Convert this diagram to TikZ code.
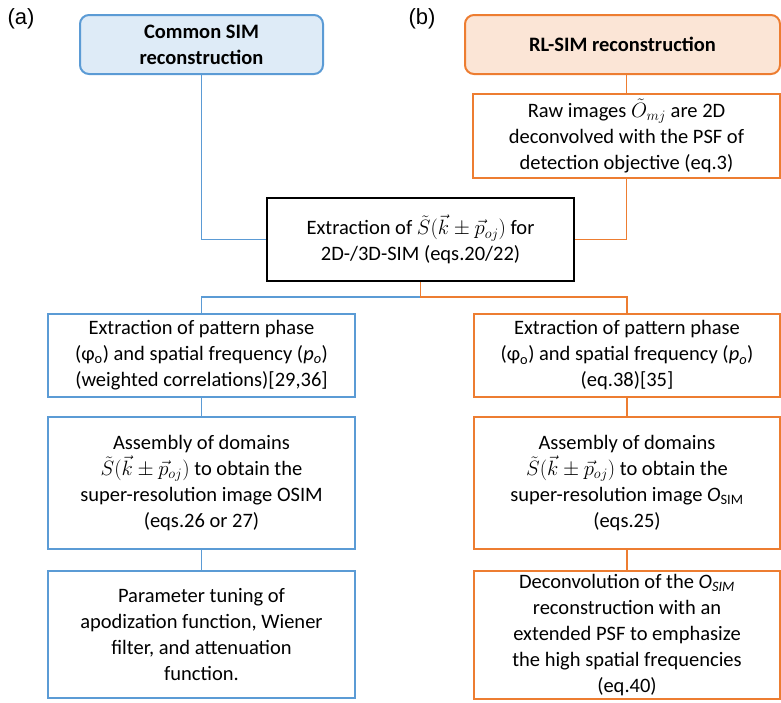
\documentclass[tikz,border=0pt]{standalone}
\usepackage{fontspec}
\usepackage{amsmath,amssymb}
\setmainfont{Carlito}
\newfontfamily\labelfont{Liberation Sans}
\definecolor{simblue}{HTML}{5B9BD5}
\definecolor{simorange}{HTML}{ED7D31}
\definecolor{fillblue}{HTML}{DEEBF7}
\definecolor{fillorange}{HTML}{FBE5D6}
\newcommand{\Sdom}{$\tilde{S}(\vec{k}\pm\vec{p}_{oj})$}

\begin{document}
\begin{tikzpicture}[x=1pt,y=1pt,
  box/.style={draw,line width=2pt,align=center,inner sep=0pt,
    font=\fontsize{20.5}{26}\selectfont},
  bluebox/.style={box,draw=simblue},
  orangebox/.style={box,draw=simorange},
  titlebox/.style={rounded corners=9pt,font=\fontsize{20.5}{26}\selectfont\bfseries},
  blueline/.style={draw=simblue,line width=1.6pt},
  orangeline/.style={draw=simorange,line width=1.6pt}]
  \useasboundingbox (0,0) rectangle (781,-702);
  \node (la) at (21,-19) {\labelfont\fontsize{22}{26}\selectfont (a)};
  \node (lb) at (422,-19) {\labelfont\fontsize{22}{26}\selectfont (b)};
  % headers
  \node [bluebox,titlebox,fill=fillblue,minimum width=243pt,minimum height=59pt] (common) at (201.5,-44.5) {Common SIM\\reconstruction};
  \node [orangebox,titlebox,fill=fillorange,minimum width=315pt,minimum height=59pt] (rl) at (622.5,-44.5) {RL-SIM reconstruction};
  \node [orangebox,minimum width=307pt,minimum height=84pt] (raw) at (626.5,-136) {Raw images $\tilde{O}_{mj}$ are 2D\\deconvolved with the PSF of\\detection objective (eq.3)};
  % common step
  \node [box,draw=black,line width=2.5pt,minimum width=307pt,minimum height=83pt] (extr) at (420.5,-239.5) {Extraction of \Sdom{} for\\2D-/3D-SIM (eqs.20/22)};
  \coordinate (fork) at (420.5,-297);
  % left column
  \node [bluebox,minimum width=307pt,minimum height=83pt] (L1) at (201.5,-355.5) {Extraction of pattern phase\\(φ\textsubscript{o}) and spatial frequency (\textit{p}\textsubscript{\textit{o}})\\(weighted correlations)[29,36]};
  \node [bluebox,minimum width=307pt,minimum height=132pt] (L2) at (201.5,-483) {Assembly of domains\\\Sdom{} to obtain the\\super-resolution image OSIM\\(eqs.26 or 27)};
  \node [bluebox,minimum width=307pt,minimum height=127pt] (L3) at (201.5,-634.5) {Parameter tuning of\\apodization function, Wiener\\filter, and attenuation\\function.};
  % right column
  \node [orangebox,minimum width=306pt,minimum height=83pt] (R1) at (627,-355.5) {Extraction of pattern phase\\(φ\textsubscript{o}) and spatial frequency (\textit{p}\textsubscript{\textit{o}})\\(eq.38)[35]};
  \node [orangebox,minimum width=306pt,minimum height=132pt] (R2) at (627,-483) {Assembly of domains\\\Sdom{} to obtain the\\super-resolution image \textit{O}\textsubscript{SIM}\\(eqs.25)};
  \node [orangebox,minimum width=306pt,minimum height=128pt] (R3) at (627,-635) {Deconvolution of the \textit{O}\textsubscript{\textit{SIM}}\\reconstruction with an\\extended PSF to emphasize\\the high spatial frequencies\\(eq.40)};
  % connectors
  \draw [blueline] (common) |- (extr);
  \draw [orangeline] (raw.north) -- (raw.north |- rl.south);
  \draw [orangeline] (raw) |- (extr);
  \draw [blueline] (fork) -| (L1);
  \draw [orangeline] (extr) -- (fork) -| (R1);
  \draw [blueline] (L1) -- (L2);
  \draw [blueline] (L2) -- (L3);
  \draw [orangeline] (R1) -- (R2);
  \draw [orangeline] (R2) -- (R3);
\end{tikzpicture}
\end{document}
